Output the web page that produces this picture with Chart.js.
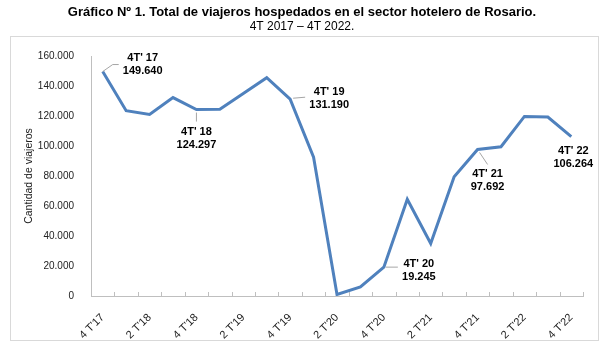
<!DOCTYPE html>
<html>
<head>
<meta charset="utf-8">
<script src="https://cdn.jsdelivr.net/npm/chart.js@4"></script>
<style>
  html, body { margin: 0; padding: 0; background: #fff; }
  #wrap { width: 604px; height: 348px; position: relative; }
</style>
</head>
<body>
<div id="wrap"><canvas id="viajeros" width="604" height="348"></canvas></div>
<script>
// datos: trimestres 4T'17 a 4T'22
const quarters = ["4 T'17", "1 T'18", "2 T'18", "3 T'18", "4 T'18", "1 T'19", "2 T'19", "3 T'19",
  "4 T'19", "1 T'20", "2 T'20", "3 T'20", "4 T'20", "1 T'21", "2 T'21", "3 T'21",
  "4 T'21", "1 T'22", "2 T'22", "3 T'22", "4 T'22"];
const travellers = [149640, 123500, 121000, 132300, 124297, 124500, 135000, 145500,
  131190, 92500, 1000, 6000, 19245, 64500, 35000, 79500,
  97692, 99500, 119700, 119300, 106264];
const tickValues = [0, 20000, 40000, 60000, 80000, 100000, 120000, 140000, 160000];
const calloutIdx = [0, 4, 8, 12, 16, 20];
const calloutName = ["4T' 17", "4T' 18", "4T' 19", "4T' 20", "4T' 21", "4T' 22"];

const font = "'Liberation Sans', Arial, sans-serif";
const fmt = v => v.toString().replace(/\B(?=(\d{3})+(?!\d))/g, '.');

// posicion de cada etiqueta respecto del punto: linea guia y texto
const calloutStyle = [
  { line: [[0, 0], [10, -7], [16, -7]], tx: 40, ty: -14 },
  { line: [[0, 3], [0, 12]], tx: 0, ty: 22 },
  { line: [[3, -1], [15, -2]], tx: 39, ty: -7 },
  { line: [[2, 0], [14, 0]], tx: 35, ty: -3 },
  { line: [[2, 3], [10, 15]], tx: 10, ty: 25 },
  { line: null, tx: 2, ty: 14 },
];

const frame = {
  id: 'frame',
  beforeDraw(chart) {
    const c = chart.ctx;
    c.save();
    c.fillStyle = '#fff';
    c.fillRect(0, 0, chart.width, chart.height);
    c.strokeStyle = '#d9d9d9';
    c.lineWidth = 1;
    c.strokeRect(10.5, 36.5, 588, 304);
    c.fillStyle = '#000';
    c.textAlign = 'center';
    c.textBaseline = 'middle';
    c.font = 'bold 13px ' + font;
    c.fillText('Gráfico Nº 1. Total de viajeros hospedados en el sector hotelero de Rosario.', 302, 12);
    c.font = '12px ' + font;
    c.fillText('4T 2017 – 4T 2022.', 302, 27);
    c.restore();
  },
  // marcas interiores del eje x, entre categorias
  afterDraw(chart) {
    const c = chart.ctx;
    const x = chart.scales.x;
    const n = quarters.length;
    const step = (x.right - x.left) / n;
    c.save();
    c.strokeStyle = '#bfbfbf';
    c.lineWidth = 1;
    c.beginPath();
    for (let i = 0; i <= n; i++) {
      const px = Math.round(x.left + i * step) + 0.5;
      c.moveTo(px, x.top);
      c.lineTo(px, x.top - 4);
    }
    c.stroke();
    c.restore();
  },
};

const callouts = {
  id: 'callouts',
  afterDatasetsDraw(chart) {
    const c = chart.ctx;
    const pts = chart.getDatasetMeta(0).data;
    c.save();
    calloutIdx.forEach((idx, k) => {
      const p = pts[idx];
      const s = calloutStyle[k];
      if (s.line) {
        c.strokeStyle = '#a6a6a6';
        c.lineWidth = 1;
        c.beginPath();
        s.line.forEach(([dx, dy], i) => {
          if (i === 0) c.moveTo(p.x + dx, p.y + dy);
          else c.lineTo(p.x + dx, p.y + dy);
        });
        c.stroke();
      }
      c.fillStyle = '#000';
      c.font = 'bold 11px ' + font;
      c.textAlign = 'center';
      c.textBaseline = 'middle';
      c.fillText(calloutName[k], p.x + s.tx, p.y + s.ty);
      c.fillText(fmt(travellers[idx]), p.x + s.tx, p.y + s.ty + 13);
    });
    c.restore();
  },
};

new Chart(document.getElementById('viajeros'), {
  type: 'line',
  data: {
    labels: quarters,
    datasets: [{
      data: travellers,
      borderColor: 'rgb(79, 129, 189)',
      borderWidth: 3,
      pointRadius: 0,
      tension: 0,
      fill: false,
    }],
  },
  options: {
    responsive: false,
    animation: false,
    devicePixelRatio: 1,
    layout: { padding: { top: 56, left: 10, right: 21, bottom: 0 } },
    plugins: {
      legend: { display: false },
      tooltip: { enabled: false },
      title: { display: false },
    },
    scales: {
      x: {
        offset: true,
        grid: { display: false },
        border: { color: '#bfbfbf' },
        ticks: {
          autoSkip: false,
          minRotation: 45,
          maxRotation: 45,
          padding: 7,
          color: '#222',
          font: { family: font, size: 11 },
          callback: (v, i) => (i % 2 === 0 ? quarters[i] : ''),
        },
        afterFit: s => { s.height = 52; },
      },
      y: {
        min: 0,
        max: 160000,
        afterBuildTicks: s => { s.ticks = tickValues.map(v => ({ value: v })); },
        grid: { display: false },
        border: { color: '#bfbfbf' },
        ticks: {
          padding: 9,
          color: '#222',
          font: { family: font, size: 10 },
          callback: v => fmt(v),
        },
        title: {
          display: true,
          text: 'Cantidad de viajeros',
          color: '#222',
          font: { family: font, size: 10.5 },
          padding: { top: 13, bottom: 0 },
        },
        afterFit: s => { s.width = 81; },
      },
    },
  },
  plugins: [frame, callouts],
});
</script>
</body>
</html>
